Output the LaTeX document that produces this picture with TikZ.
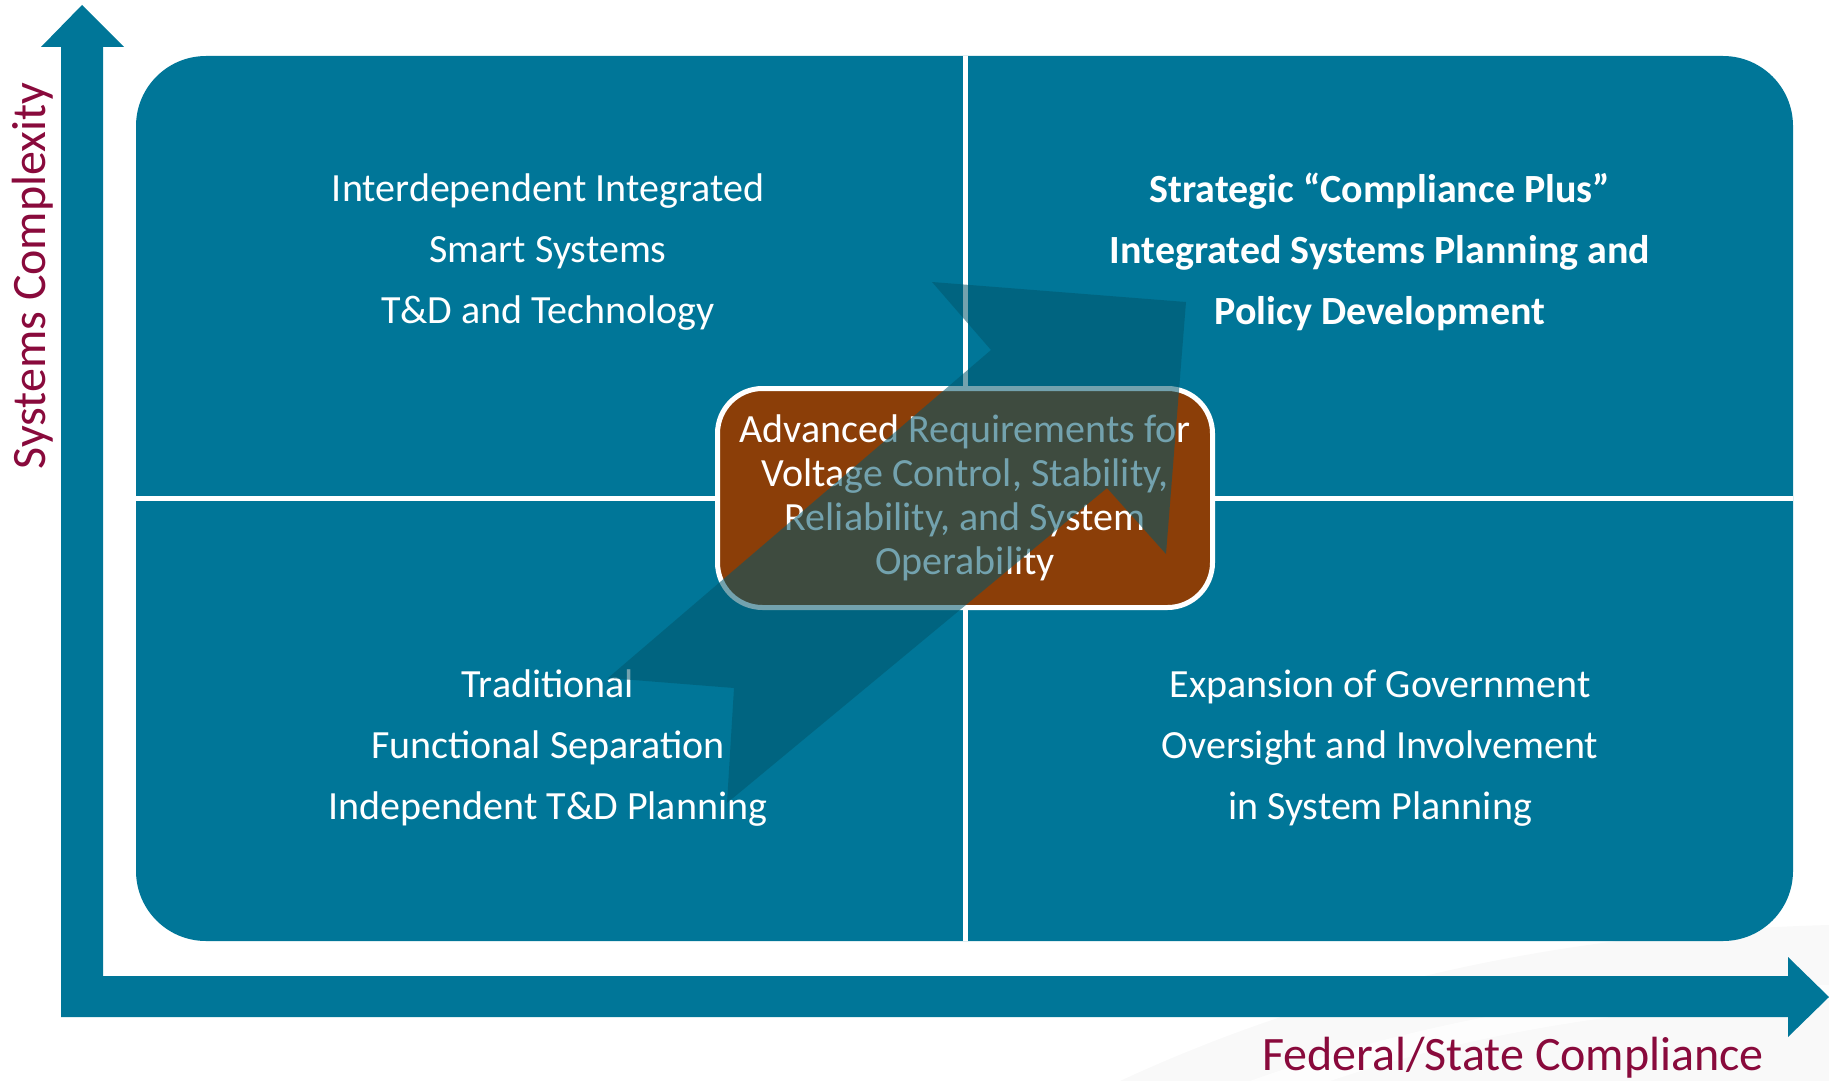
\documentclass[tikz,border=0pt]{standalone}
\usepackage{fontspec}
\setmainfont{Carlito}
\definecolor{quadteal}{RGB}{0,118,152}
\definecolor{coreorange}{RGB}{139,62,8}
\definecolor{shadeteal}{RGB}{0,87,109}
\definecolor{axisred}{RGB}{137,10,60}
\tikzset{
  quadtext/.style={text=white, align=center, font=\fontsize{40}{61}\selectfont},
  axislabel/.style={text=axisred, font=\fontsize{48}{58}\selectfont},
}

\begin{document}
\begin{tikzpicture}[x=1pt,y=-1pt]
\useasboundingbox (0,0) rectangle (1829,1081);
\fill[gray!5] (1120,1081) .. controls (1380,960) and (1640,930) .. (1829,925) -- (1829,1081) -- cycle;
\fill[white, opacity=0.8] (1250,1081) .. controls (1450,1010) and (1650,985) .. (1829,985) -- (1829,1000) .. controls (1650,1005) and (1480,1030) .. (1330,1081) -- cycle;
\fill[quadteal] (61,1017) -- (61,47) -- (41,47) -- (82,5) -- (124,47) -- (103,47) -- (103,976)
  -- (1788,976) -- (1788,957) -- (1829,997) -- (1788,1037) -- (1788,1017) -- cycle;
\fill[quadteal, rounded corners=70pt] (136,56) rectangle (1793,941);
\draw[white, line width=5pt] (965,56) -- (965,941) (136,498) -- (1793,498);
\node[quadtext] (tl) at (548,252) {Interdependent Integrated\\Smart Systems\\T\&D and Technology};
\node[quadtext, font=\bfseries\fontsize{40}{61}\selectfont] (tr) at (1380,252) {Strategic “Compliance Plus”\\Integrated Systems Planning and\\Policy Development};
\node[quadtext] (bl) at (548,748) {Traditional\\Functional Separation\\Independent T\&D Planning};
\node[quadtext] (br) at (1380,748) {Expansion of Government\\Oversight and Involvement\\in System Planning};
\node[draw=white, line width=5pt, fill=coreorange, rounded corners=45pt, minimum width=495pt, minimum height=219pt,
  text=white, align=center, font=\fontsize{40}{44}\selectfont] (core) at (965,498)
  {\raisebox{-2pt}{\parbox{480pt}{\centering Advanced Requirements for\\Voltage Control, Stability,\\Reliability, and System\\Operability}}};
\fill[shadeteal, fill opacity=0.55] (608,678) -- (734,688) -- (727,803) -- (1107,488) -- (1166,554)
  -- (1186,302) -- (932,282) -- (991,350) -- cycle;
\node[axislabel, rotate=90, anchor=base] (ylab) at (45,276) {Systems Complexity};
\node[axislabel, anchor=base] (xlab) at (1513,1070) {Federal/State Compliance};
\end{tikzpicture}
\end{document}
